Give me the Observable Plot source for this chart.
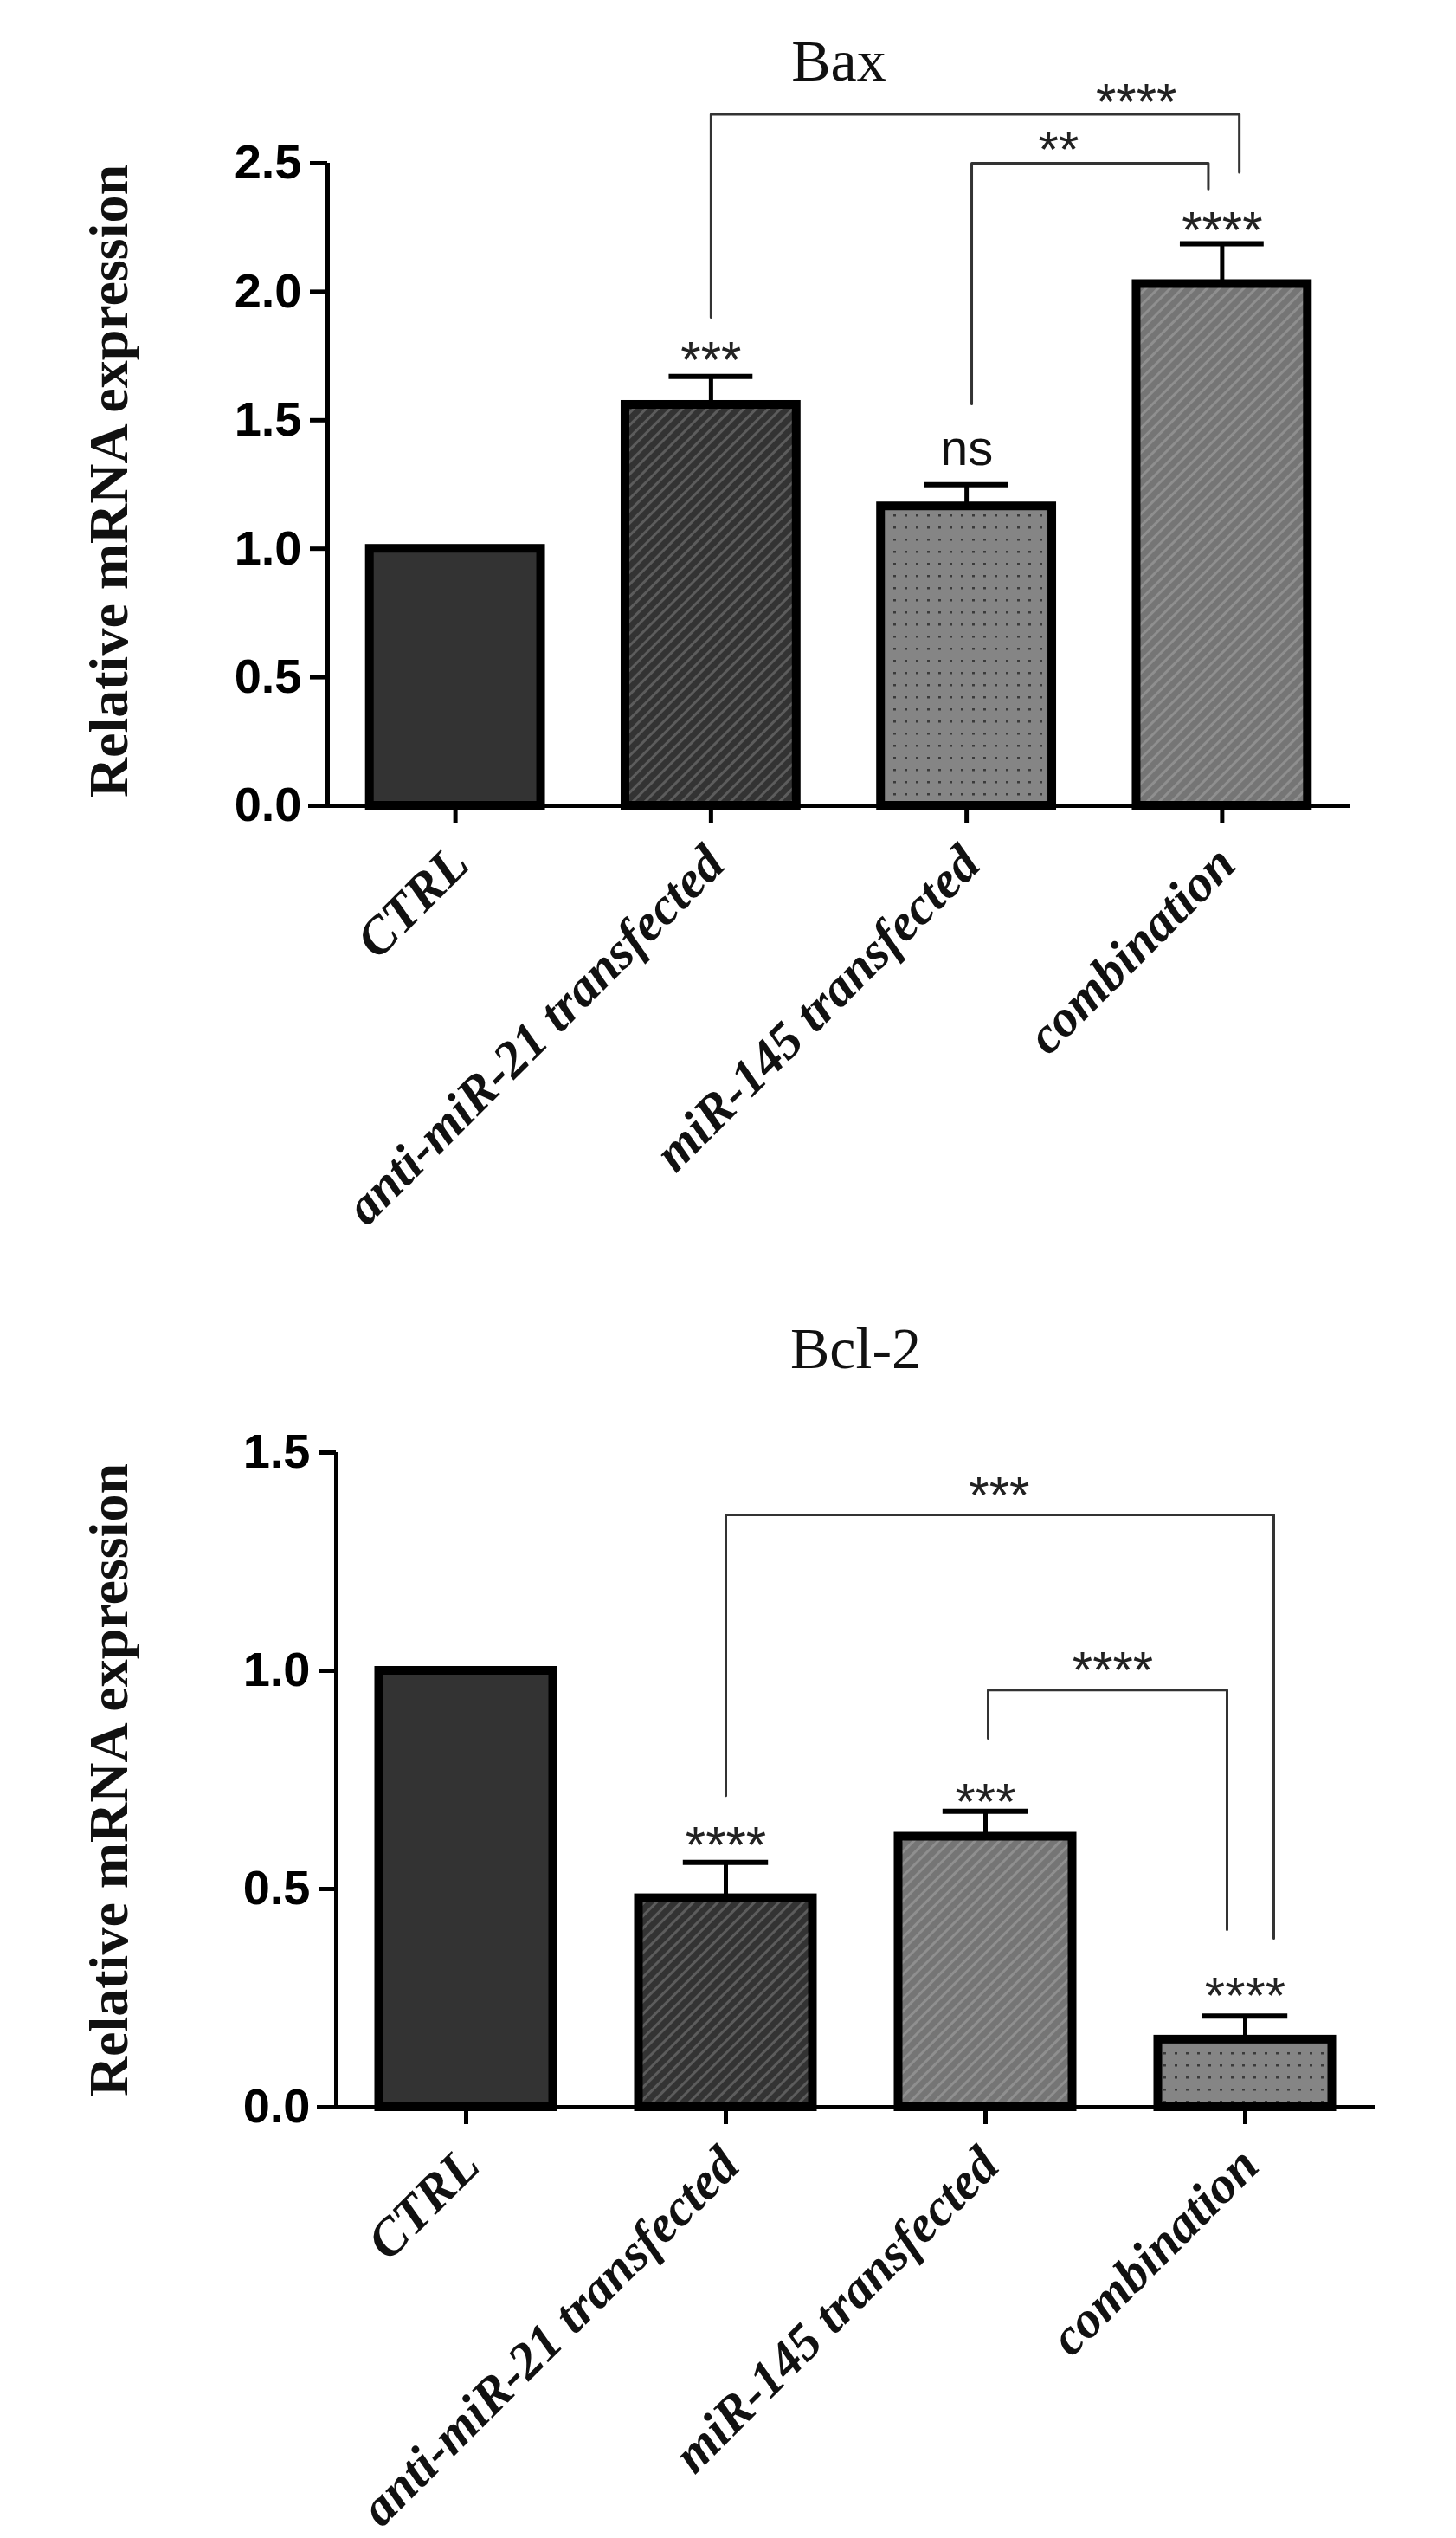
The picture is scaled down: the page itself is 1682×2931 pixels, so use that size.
<!DOCTYPE html>
<html>
<head>
<meta charset="utf-8">
<script src="https://cdn.jsdelivr.net/npm/d3@7"></script>
<script src="https://cdn.jsdelivr.net/npm/@observablehq/plot@0.6"></script>
<style>
  html, body { margin: 0; padding: 0; background: #fff; }
  #charts svg { display: block; }
</style>
</head>
<body>
<svg width="0" height="0" style="position:absolute">
  <defs>
    <pattern id="solidDark" width="10" height="10" patternUnits="userSpaceOnUse">
      <rect width="10" height="10" fill="#333333"></rect>
    </pattern>
    <pattern id="stripeDark" width="10" height="10" patternUnits="userSpaceOnUse" patternTransform="rotate(45)">
      <rect width="10" height="10" fill="#333333"></rect>
      <rect width="3" height="10" fill="#5c5c5c"></rect>
    </pattern>
    <pattern id="stripeGray" width="10" height="10" patternUnits="userSpaceOnUse" patternTransform="rotate(45)">
      <rect width="10" height="10" fill="#757575"></rect>
      <rect width="3" height="10" fill="#8f8f8f"></rect>
    </pattern>
    <pattern id="dotGray" width="13" height="14" patternUnits="userSpaceOnUse">
      <rect width="13" height="14" fill="#858585"></rect>
      <rect x="5" y="6" width="3" height="2.5" fill="#3a3a3a"></rect>
    </pattern>
  </defs>
</svg>
<div id="charts"></div>
<script>
// ---------- data ----------
const categories = ["CTRL", "anti-miR-21 transfected", "miR-145 transfected", "combination"];

// Bax
const baxValues = [1.00, 1.56, 1.165, 2.03];
const baxErrors = [0, 0.11, 0.084, 0.157];
const baxBarLabels = ["", "***", "ns", "****"];
const baxBarLabelY = [null, 1.782, 1.39, 2.288];
const baxTicks = [0, 0.5, 1.0, 1.5, 2.0, 2.5];
const baxBracketLeft = [1.0, 2.02];
const baxBracketRight = [3.067, 2.946];
const baxBracketTop = [2.69, 2.50];
const baxBracketLeftEnd = [1.90, 1.563];
const baxBracketRightEnd = [2.465, 2.40];
const baxBracketText = ["****", "**"];
const baxBracketTextX = [2.664, 2.36];
const baxBracketTextY = [2.786, 2.60];

// Bcl-2
const bclValues = [1.00, 0.479, 0.62, 0.155];
const bclErrors = [0, 0.082, 0.058, 0.054];
const bclBarLabels = ["", "****", "***", "****"];
const bclBarLabelY = [null, 0.628, 0.728, 0.283];
const bclTicks = [0, 0.5, 1.0, 1.5];
const bclBracketLeft = [1.0, 2.01];
const bclBracketRight = [3.11, 2.93];
const bclBracketTop = [1.357, 0.956];
const bclBracketLeftEnd = [0.714, 0.845];
const bclBracketRightEnd = [0.387, 0.4065];
const bclBracketText = ["***", "****"];
const bclBracketTextX = [2.053, 2.49];
const bclBracketTextY = [1.43, 1.029];

// ---------- chart builder ----------
function makeChart(cfg) {
  const n = cfg.values.length;
  const idx = d3.range(n);
  const xDomain = [-0.5, n - 0.5];
  const barHalf = 0.335, capHalf = 0.164;
  const yMax = d3.max(cfg.ticks);

  const bars = idx.map(i => ({i, v: cfg.values[i], e: cfg.errors[i], fill: `url(#${cfg.fills[i]})`}));
  const errs = bars.filter(d => d.e > 0);
  const starLabels = idx.filter(i => cfg.barLabels[i] && cfg.barLabels[i].includes("*"))
    .map(i => ({x: i, y: cfg.barLabelY[i], t: cfg.barLabels[i]}))
    .concat(cfg.bracketText.map((t, k) => ({x: cfg.bracketTextX[k], y: cfg.bracketTextY[k], t})));
  const wordLabels = idx.filter(i => cfg.barLabels[i] && !cfg.barLabels[i].includes("*"))
    .map(i => ({x: i, y: cfg.barLabelY[i], t: cfg.barLabels[i]}));
  const bracketPts = [];
  cfg.bracketLeft.forEach((L, k) => {
    const R = cfg.bracketRight[k], T = cfg.bracketTop[k];
    bracketPts.push(
      {k, x: L, y: cfg.bracketLeftEnd[k]},
      {k, x: L, y: T},
      {k, x: R, y: T},
      {k, x: R, y: cfg.bracketRightEnd[k]}
    );
  });

  return Plot.plot({
    width: 1682,
    height: cfg.height,
    marginTop: cfg.marginTop,
    marginBottom: cfg.marginBottom,
    marginLeft: cfg.marginLeft,
    marginRight: cfg.marginRight,
    style: {background: "#fff", fontFamily: "Liberation Sans, Arial, sans-serif", overflow: "visible", color: "#000"},
    x: {type: "linear", domain: xDomain, axis: null},
    y: {domain: [0, yMax], axis: null},
    color: {type: "identity"},
    marks: [
      // bars
      Plot.rectY(bars, {x1: d => d.i - barHalf, x2: d => d.i + barHalf, y1: 0, y2: d => d.v,
        fill: d => d.fill, stroke: "#000", strokeWidth: 10}),
      // error bars
      Plot.ruleX(errs, {x: d => d.i, y1: d => d.v, y2: d => d.v + d.e, stroke: "#000", strokeWidth: 5}),
      Plot.ruleY(errs, {y: d => d.v + d.e, x1: d => d.i - capHalf, x2: d => d.i + capHalf, stroke: "#000", strokeWidth: 6}),
      // axes lines
      Plot.ruleY([0], {stroke: "#000", strokeWidth: 5, insetLeft: -22}),
      Plot.ruleX([xDomain[0]], {y1: 0, y2: yMax, stroke: "#000", strokeWidth: 5}),
      Plot.axisY({ticks: cfg.ticks, tickSize: 20, tickPadding: 10, tickFormat: d3.format(".1f"),
        fontSize: 56, fontWeight: "bold", fontFamily: "Liberation Sans, Arial, sans-serif",
        stroke: "#000", strokeWidth: 5, fill: "#000", label: null}),
      Plot.axisX({ticks: idx, tickSize: 20, tickFormat: () => "", stroke: "#000", strokeWidth: 5, label: null}),
      // x tick labels
      Plot.text(categories, {x: (d, i) => i, y: 0, text: d => d, rotate: -45, textAnchor: "end", lineAnchor: "middle",
        dx: 5, dy: 57, fontSize: 60, fontWeight: "bold", fontStyle: "italic",
        fontFamily: "Liberation Serif, Times New Roman, serif", fill: "#111"}),
      // brackets
      Plot.line(bracketPts, {x: "x", y: "y", z: "k", stroke: "#333", strokeWidth: 3, curve: "linear"}),
      // significance labels
      Plot.text(starLabels, {x: "x", y: "y", text: "t", fontSize: 60, dy: 15, fill: "#222",
        fontFamily: "Liberation Sans, Arial, sans-serif"}),
      Plot.text(wordLabels, {x: "x", y: "y", text: "t", fontSize: 58, fill: "#111",
        fontFamily: "Liberation Sans, Arial, sans-serif"}),
      // y-axis title
      Plot.text([cfg.yTitle], {text: d => d, frameAnchor: "left", textAnchor: "middle", lineAnchor: "middle",
        rotate: -90, dx: cfg.yTitleDx, dy: cfg.yTitleDy,
        fontSize: 64, fontWeight: "bold", fontFamily: "Liberation Serif, Times New Roman, serif", fill: "#111"}),
      // chart title
      Plot.text([cfg.title], {text: d => d, frameAnchor: "top", textAnchor: "middle", lineAnchor: "middle",
        dy: cfg.titleDy, fontSize: 68,
        fontFamily: "Liberation Serif, Times New Roman, serif", fill: "#111"})
    ]
  });
}

const root = document.getElementById("charts");
root.append(makeChart({
  title: "Bax", yTitle: "Relative mRNA expression",
  values: baxValues, errors: baxErrors, barLabels: baxBarLabels, barLabelY: baxBarLabelY, ticks: baxTicks,
  fills: ["solidDark", "stripeDark", "dotGray", "stripeGray"],
  bracketLeft: baxBracketLeft, bracketRight: baxBracketRight, bracketTop: baxBracketTop,
  bracketLeftEnd: baxBracketLeftEnd, bracketRightEnd: baxBracketRightEnd,
  bracketText: baxBracketText, bracketTextX: baxBracketTextX, bracketTextY: baxBracketTextY,
  height: 1440, marginTop: 188, marginBottom: 510, marginLeft: 378, marginRight: 123,
  yTitleDx: -251.5, yTitleDy: -4, titleDy: -117.3
}));
root.append(makeChart({
  title: "Bcl-2", yTitle: "Relative mRNA expression",
  values: bclValues, errors: bclErrors, barLabels: bclBarLabels, barLabelY: bclBarLabelY, ticks: bclTicks,
  fills: ["solidDark", "stripeDark", "stripeGray", "dotGray"],
  bracketLeft: bclBracketLeft, bracketRight: bclBracketRight, bracketTop: bclBracketTop,
  bracketLeftEnd: bclBracketLeftEnd, bracketRightEnd: bclBracketRightEnd,
  bracketText: bclBracketText, bracketTextX: bclBracketTextX, bracketTextY: bclBracketTextY,
  height: 1491, marginTop: 237, marginBottom: 498, marginLeft: 388, marginRight: 94,
  yTitleDx: -261.5, yTitleDy: 0, titleDy: -118.8
}));
</script>
</body>
</html>
